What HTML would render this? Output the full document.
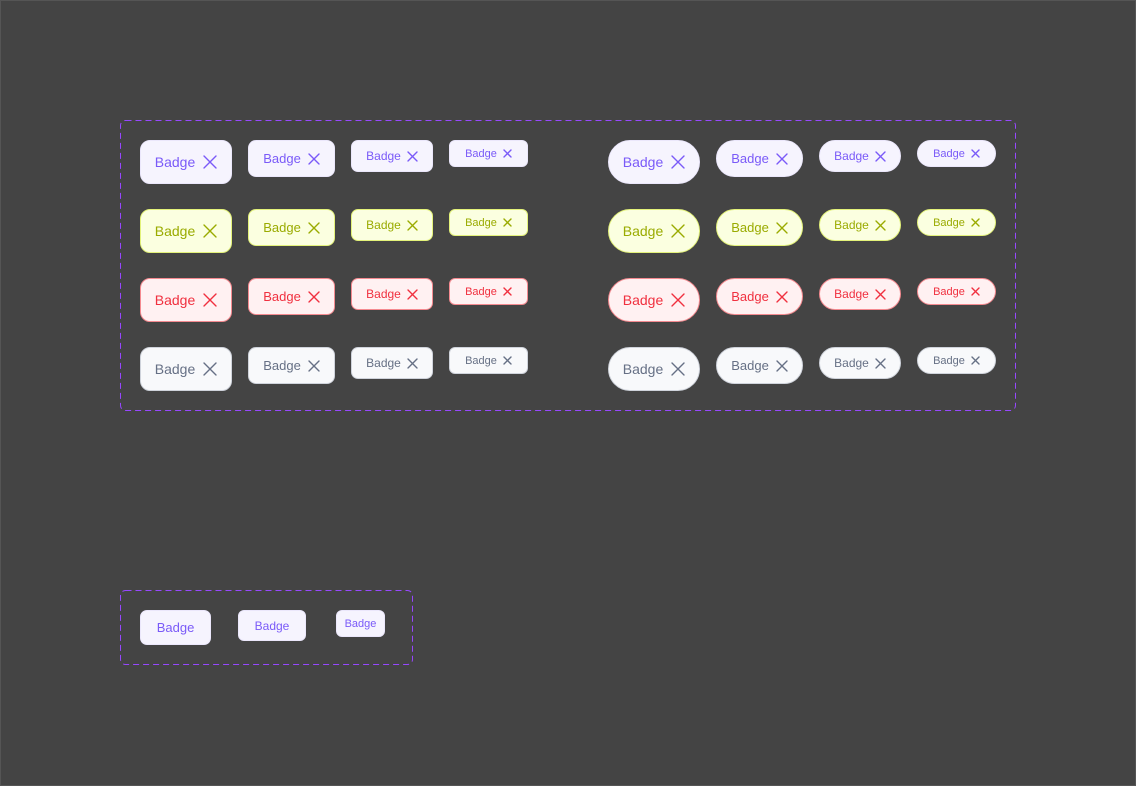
<!DOCTYPE html>
<html><head><meta charset="utf-8"><style>
*{margin:0;padding:0;box-sizing:border-box}
body{width:1136px;height:786px;background:#444;position:relative;overflow:hidden;font-family:"Liberation Sans",sans-serif;box-shadow:inset 0 0 0 1px #555}
svg.f{position:absolute;left:0;top:0}
.b{position:absolute;display:flex;align-items:center;justify-content:center;border:1px solid;white-space:nowrap}
.b svg{display:block;fill:none;stroke:currentColor;stroke-width:1.4;stroke-linecap:round}
.L{width:92px;height:44px;border-radius:10px;font-size:14px;gap:8px}
.M{width:87px;height:37px;border-radius:8px;font-size:13px;gap:7px}
.S{width:82px;height:32px;border-radius:7px;font-size:12px;gap:6px}
.X{width:79px;height:27px;border-radius:6px;font-size:11px;gap:6px}
.L.p{border-radius:22px}.M.p{border-radius:19px}.S.p{border-radius:16px}.X.p{border-radius:14px}
.pu{background:#f6f4fe;border-color:#ebe7fb;color:#7a5af8}
.ye{background:#fbffe0;border-color:#e3f27a;color:#9aab00}
.re{background:#fff1f2;border-color:#f58a90;color:#f0303f}
.gr{background:#f8f9fb;border-color:#cfd3db;color:#667085}
</style></head><body>
<svg class="f" width="1136" height="786"><g fill="none" stroke="#9747ff" stroke-width="1" stroke-dasharray="6 4">
<rect x="120.5" y="120.5" width="895" height="290" rx="5"/>
<rect x="120.5" y="590.5" width="292" height="74" rx="5"/></g></svg>

<div class="b L pu" style="left:140px;top:140px">Badge<svg width="14" height="14"><path d="M1 1L13 13M13 1L1 13"/></svg></div>
<div class="b M pu" style="left:248px;top:140px">Badge<svg width="12" height="12"><path d="M1 1L11 11M11 1L1 11"/></svg></div>
<div class="b S pu" style="left:351px;top:140px">Badge<svg width="11" height="11"><path d="M1 1L10 10M10 1L1 10"/></svg></div>
<div class="b X pu" style="left:449px;top:140px">Badge<svg width="9" height="9"><path d="M1 1L8 8M8 1L1 8"/></svg></div>
<div class="b L p pu" style="left:608px;top:140px">Badge<svg width="14" height="14"><path d="M1 1L13 13M13 1L1 13"/></svg></div>
<div class="b M p pu" style="left:716px;top:140px">Badge<svg width="12" height="12"><path d="M1 1L11 11M11 1L1 11"/></svg></div>
<div class="b S p pu" style="left:819px;top:140px">Badge<svg width="11" height="11"><path d="M1 1L10 10M10 1L1 10"/></svg></div>
<div class="b X p pu" style="left:917px;top:140px">Badge<svg width="9" height="9"><path d="M1 1L8 8M8 1L1 8"/></svg></div>

<div class="b L ye" style="left:140px;top:209px">Badge<svg width="14" height="14"><path d="M1 1L13 13M13 1L1 13"/></svg></div>
<div class="b M ye" style="left:248px;top:209px">Badge<svg width="12" height="12"><path d="M1 1L11 11M11 1L1 11"/></svg></div>
<div class="b S ye" style="left:351px;top:209px">Badge<svg width="11" height="11"><path d="M1 1L10 10M10 1L1 10"/></svg></div>
<div class="b X ye" style="left:449px;top:209px">Badge<svg width="9" height="9"><path d="M1 1L8 8M8 1L1 8"/></svg></div>
<div class="b L p ye" style="left:608px;top:209px">Badge<svg width="14" height="14"><path d="M1 1L13 13M13 1L1 13"/></svg></div>
<div class="b M p ye" style="left:716px;top:209px">Badge<svg width="12" height="12"><path d="M1 1L11 11M11 1L1 11"/></svg></div>
<div class="b S p ye" style="left:819px;top:209px">Badge<svg width="11" height="11"><path d="M1 1L10 10M10 1L1 10"/></svg></div>
<div class="b X p ye" style="left:917px;top:209px">Badge<svg width="9" height="9"><path d="M1 1L8 8M8 1L1 8"/></svg></div>

<div class="b L re" style="left:140px;top:278px">Badge<svg width="14" height="14"><path d="M1 1L13 13M13 1L1 13"/></svg></div>
<div class="b M re" style="left:248px;top:278px">Badge<svg width="12" height="12"><path d="M1 1L11 11M11 1L1 11"/></svg></div>
<div class="b S re" style="left:351px;top:278px">Badge<svg width="11" height="11"><path d="M1 1L10 10M10 1L1 10"/></svg></div>
<div class="b X re" style="left:449px;top:278px">Badge<svg width="9" height="9"><path d="M1 1L8 8M8 1L1 8"/></svg></div>
<div class="b L p re" style="left:608px;top:278px">Badge<svg width="14" height="14"><path d="M1 1L13 13M13 1L1 13"/></svg></div>
<div class="b M p re" style="left:716px;top:278px">Badge<svg width="12" height="12"><path d="M1 1L11 11M11 1L1 11"/></svg></div>
<div class="b S p re" style="left:819px;top:278px">Badge<svg width="11" height="11"><path d="M1 1L10 10M10 1L1 10"/></svg></div>
<div class="b X p re" style="left:917px;top:278px">Badge<svg width="9" height="9"><path d="M1 1L8 8M8 1L1 8"/></svg></div>

<div class="b L gr" style="left:140px;top:347px">Badge<svg width="14" height="14"><path d="M1 1L13 13M13 1L1 13"/></svg></div>
<div class="b M gr" style="left:248px;top:347px">Badge<svg width="12" height="12"><path d="M1 1L11 11M11 1L1 11"/></svg></div>
<div class="b S gr" style="left:351px;top:347px">Badge<svg width="11" height="11"><path d="M1 1L10 10M10 1L1 10"/></svg></div>
<div class="b X gr" style="left:449px;top:347px">Badge<svg width="9" height="9"><path d="M1 1L8 8M8 1L1 8"/></svg></div>
<div class="b L p gr" style="left:608px;top:347px">Badge<svg width="14" height="14"><path d="M1 1L13 13M13 1L1 13"/></svg></div>
<div class="b M p gr" style="left:716px;top:347px">Badge<svg width="12" height="12"><path d="M1 1L11 11M11 1L1 11"/></svg></div>
<div class="b S p gr" style="left:819px;top:347px">Badge<svg width="11" height="11"><path d="M1 1L10 10M10 1L1 10"/></svg></div>
<div class="b X p gr" style="left:917px;top:347px">Badge<svg width="9" height="9"><path d="M1 1L8 8M8 1L1 8"/></svg></div>

<div class="b pu" style="left:140px;top:610px;width:71px;height:35px;border-radius:7px;font-size:13px">Badge</div>
<div class="b pu" style="left:238px;top:610px;width:68px;height:31px;border-radius:6px;font-size:12px">Badge</div>
<div class="b pu" style="left:336px;top:610px;width:49px;height:27px;border-radius:6px;font-size:11px">Badge</div>
</body></html>
